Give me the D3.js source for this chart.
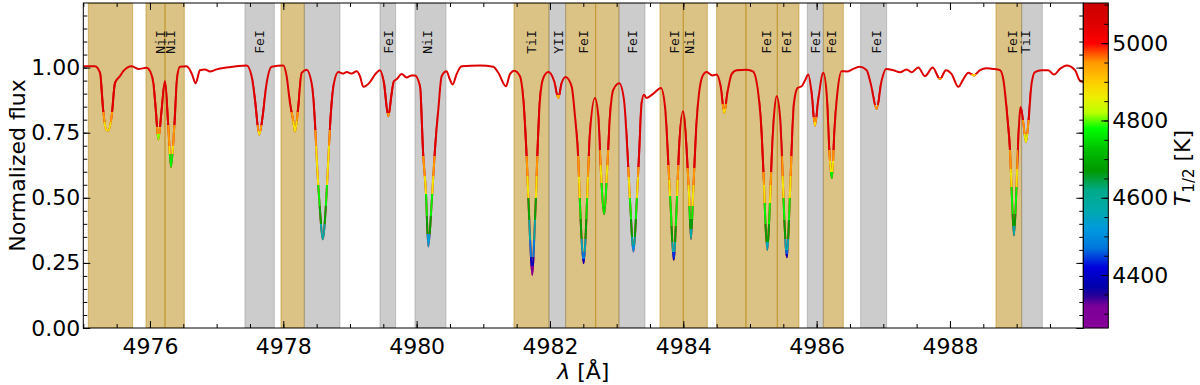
<!DOCTYPE html>
<html><head><meta charset="utf-8">
<script src="https://cdn.jsdelivr.net/npm/d3@7"></script>
<style>body{margin:0;background:#fff;} svg{display:block;}</style>
</head><body>
<svg id="chart" width="1200" height="385"></svg>
<script>
// ---------------- DATA ----------------
const wavelength = [4975.0,4975.175,4975.25,4975.30,4975.34,4975.375,4975.425,4975.475,4975.55,4975.60,4975.725,4975.825,4975.95,4976.02,4976.05,4976.09,4976.125,4976.175,4976.225,4976.275,4976.315,4976.365,4976.41,4976.45,4976.55,4976.63,4976.685,4976.75,4976.825,4976.90,4977.0,4977.15,4977.45,4977.525,4977.575,4977.64,4977.69,4977.75,4977.825,4978.0,4978.05,4978.10,4978.15,4978.175,4978.225,4978.275,4978.35,4978.425,4978.475,4978.51,4978.55,4978.59,4978.635,4978.675,4978.71,4978.76,4978.825,4978.90,4978.95,4979.025,4979.10,4979.15,4979.20,4979.30,4979.375,4979.45,4979.51,4979.575,4979.625,4979.66,4979.70,4979.775,4979.85,4979.925,4979.975,4980.05,4980.10,4980.14,4980.175,4980.225,4980.275,4980.325,4980.375,4980.45,4980.49,4980.54,4980.60,4980.675,4980.95,4981.15,4981.225,4981.34,4981.40,4981.465,4981.55,4981.60,4981.65,4981.675,4981.70,4981.735,4981.765,4981.79,4981.81,4981.85,4981.90,4981.975,4982.06,4982.125,4982.175,4982.235,4982.325,4982.375,4982.425,4982.45,4982.475,4982.505,4982.535,4982.56,4982.60,4982.675,4982.725,4982.76,4982.815,4982.86,4982.90,4982.95,4983.04,4983.11,4983.16,4983.20,4983.255,4983.30,4983.34,4983.375,4983.41,4983.45,4983.55,4983.665,4983.725,4983.775,4983.81,4983.855,4983.90,4983.935,4983.995,4984.05,4984.085,4984.115,4984.15,4984.19,4984.25,4984.31,4984.35,4984.435,4984.50,4984.56,4984.615,4984.66,4984.725,4984.80,4984.95,4985.045,4985.125,4985.175,4985.21,4985.23,4985.26,4985.29,4985.325,4985.36,4985.40,4985.45,4985.485,4985.515,4985.555,4985.59,4985.625,4985.66,4985.715,4985.775,4985.825,4985.875,4985.925,4985.975,4986.025,4986.10,4986.15,4986.19,4986.23,4986.265,4986.31,4986.375,4986.455,4986.55,4986.65,4986.75,4986.81,4986.90,4986.975,4987.04,4987.15,4987.25,4987.35,4987.425,4987.525,4987.625,4987.74,4987.85,4987.94,4988.025,4988.125,4988.20,4988.275,4988.36,4988.45,4988.55,4988.65,4988.75,4988.80,4988.86,4988.90,4988.925,4988.96,4989.0,4989.025,4989.06,4989.10,4989.14,4989.18,4989.225,4989.275,4989.375,4989.475,4989.56,4989.65,4989.75,4989.875,4989.95,4990.0];
const flux = [1.005,1.005,0.98,0.832,0.762,0.758,0.813,0.94,0.967,0.986,1.005,0.995,0.999,0.975,0.94,0.83,0.723,0.838,0.948,0.774,0.618,0.774,0.967,1.003,1.005,0.975,0.94,0.99,0.993,0.985,0.993,1.0,1.008,0.967,0.877,0.742,0.813,0.94,1.003,1.008,0.967,0.864,0.794,0.755,0.851,0.98,0.992,0.94,0.788,0.608,0.454,0.341,0.454,0.646,0.813,0.94,0.983,0.977,0.983,0.977,0.986,0.967,0.926,0.944,0.973,0.99,0.94,0.813,0.90,0.948,0.955,0.975,0.962,0.97,0.97,0.928,0.659,0.518,0.313,0.479,0.685,0.838,0.967,0.986,0.96,0.935,0.975,1.005,1.008,1.003,0.98,0.928,0.975,0.988,0.967,0.877,0.659,0.505,0.351,0.204,0.351,0.505,0.659,0.877,0.96,0.983,0.95,0.883,0.94,0.964,0.928,0.813,0.646,0.479,0.338,0.249,0.351,0.518,0.749,0.883,0.813,0.621,0.437,0.621,0.813,0.915,0.94,0.877,0.685,0.492,0.294,0.479,0.685,0.864,0.896,0.883,0.90,0.922,0.851,0.633,0.467,0.262,0.467,0.685,0.832,0.685,0.518,0.342,0.531,0.749,0.928,0.977,0.983,0.97,0.973,0.928,0.826,0.90,0.975,0.99,0.992,0.985,0.90,0.749,0.556,0.415,0.30,0.42,0.646,0.813,0.89,0.813,0.621,0.42,0.272,0.446,0.685,0.864,0.922,0.928,0.95,0.973,0.90,0.777,0.877,0.98,0.90,0.685,0.576,0.749,0.90,0.986,0.985,0.995,1.003,0.99,0.94,0.841,0.95,0.995,0.99,0.982,0.993,0.982,1.0,0.967,1.0,0.956,0.99,0.975,0.926,0.955,0.98,0.97,0.99,0.997,0.995,0.99,0.955,0.81,0.685,0.531,0.355,0.556,0.723,0.849,0.787,0.713,0.80,0.94,0.983,0.99,0.99,0.973,0.995,1.008,0.99,0.95,0.945];

// T_1/2 of the line at each depth: wavelength range of the line, and [flux below which, T] steps
const lineRanges = [[4975.25,4975.5],[4976.05,4976.2],[4976.24,4976.4],[4977.55,4977.72],[4978.1,4978.25],[4978.45,4978.75],[4979.5,4979.65],[4980.05,4980.3],[4981.6,4981.85],[4982.08,4982.17],[4982.4,4982.6],[4982.74,4982.9],[4983.15,4983.36],[4983.75,4983.96],[4984.03,4984.2],[4984.57,4984.66],[4985.15,4985.34],[4985.47,4985.64],[4985.93,4986.02],[4986.17,4986.28],[4986.85,4986.95],[4987.8,4987.9],[4988.32,4988.4],[4988.85,4989.02],[4989.08,4989.2]];
const lineTsteps = [
  [[0.83,4950],[0.79,4870]],
  [[0.77,4950],[0.745,4810]],
  [[0.78,4950],[0.70,4870],[0.67,4770]],
  [[0.78,4950],[0.755,4870]],
  [[0.83,4950],[0.795,4870]],
  [[0.76,4950],[0.70,4870],[0.55,4770],[0.47,4690],[0.40,4580]],
  [[0.825,4950]],
  [[0.66,4950],[0.585,4870],[0.515,4770],[0.43,4680],[0.36,4530]],
  [[0.66,4950],[0.585,4870],[0.50,4690],[0.415,4580],[0.338,4480],[0.274,4390],[0.24,4300]],
  [[0.895,4920]],
  [[0.66,4950],[0.58,4870],[0.50,4760],[0.42,4680],[0.34,4560],[0.29,4470],[0.265,4390]],
  [[0.685,4950],[0.627,4870],[0.556,4780],[0.47,4760]],
  [[0.62,4950],[0.58,4870],[0.50,4770],[0.42,4680],[0.35,4580],[0.32,4500]],
  [[0.627,4950],[0.57,4870],[0.505,4770],[0.39,4680],[0.33,4570],[0.29,4440],[0.27,4390]],
  [[0.615,4950],[0.55,4870],[0.47,4770],[0.42,4680],[0.38,4580]],
  [[0.86,4950],[0.84,4880]],
  [[0.60,4950],[0.55,4870],[0.48,4770],[0.40,4680],[0.33,4560]],
  [[0.66,4950],[0.585,4870],[0.50,4770],[0.415,4680],[0.34,4560],[0.30,4460],[0.285,4390]],
  [[0.81,4950],[0.79,4880]],
  [[0.685,4950],[0.64,4870],[0.60,4770]],
  [[0.855,4950]],
  [[0.96,4950]],
  [[0.975,4900]],
  [[0.685,4950],[0.61,4870],[0.54,4770],[0.436,4680],[0.39,4580]],
  [[0.80,4950],[0.745,4850]]
];
const continuumT = 5050;

const goldBands = [[4975.075,4975.74],[4975.94,4976.225],[4976.225,4976.515],[4977.965,4978.315],[4981.46,4981.985],[4982.235,4982.685],[4982.685,4983.035],[4983.65,4984.0],[4984.0,4984.36],[4984.5,4984.94],[4984.94,4985.41],[4985.41,4985.735],[4986.1,4986.4],[4988.69,4989.075]];
const grayBands = [[4977.425,4977.865],[4978.315,4978.85],[4979.45,4979.685],[4979.975,4980.44],[4981.985,4982.235],[4983.035,4983.425],[4985.86,4986.1],[4986.66,4987.05],[4989.075,4989.385]];

const labelWavelengths = [4976.15,4976.30,4977.64,4979.575,4980.165,4981.725,4982.125,4982.495,4983.24,4983.86,4984.09,4985.25,4985.54,4985.975,4986.215,4986.89,4988.94,4989.125];
const labelTexts = ["NiI","NiI","FeI","FeI","NiI","TiI","YII","FeI","FeI","FeI","NiI","FeI","FeI","FeI","FeI","FeI","FeI","TiI"];

const xTicks = [4976,4978,4980,4982,4984,4986,4988];
const yTicks = [0,0.25,0.5,0.75,1.0];
const cbTicks = [4400,4600,4800,5000];
const cbRange = [4263,5104];

// colormap (nipy_spectral-like) : temperature -> colour
const cmapT = [4263,4320,4345,4370,4420,4470,4520,4570,4620,4670,4720,4750,4780,4820,4860,4900,4950,5000,5050,5104];
const cmapColors = ["#880099","#7a0099","#2a0099","#0000aa","#0000dd","#0077dd","#0099dd","#00aaaa","#00aa88","#009900","#00bb00","#00dd00","#00ff00","#bbff00","#eeee00","#ffcc00","#ff9900","#ff0000","#dd0000","#cc0000"];

// ---------------- CHART ----------------
const svg = d3.select("#chart");
const P = {left:83.3, right:1083.3, top:3, bottom:328};
const x = d3.scaleLinear().domain([4975,4990]).range([P.left,P.right]);
const y = d3.scaleLinear().domain([0,1.248]).range([P.bottom,P.top]);
const cmap = d3.scaleLinear().domain(cmapT).range(cmapColors).clamp(true);
const FONT = "'DejaVu Sans', sans-serif";
const defs = svg.append("defs");
defs.append("clipPath").attr("id","plotclip").append("rect")
  .attr("x",P.left).attr("y",P.top).attr("width",P.right-P.left).attr("height",P.bottom-P.top);

// shaded bands (axvspan-like: face and edge with alpha)
const gB = svg.append("g").attr("clip-path","url(#plotclip)");
function drawBands(data, col, alpha){
  gB.selectAll(null).data(data).join("rect")
    .attr("x",d=>x(d[0])).attr("width",d=>x(d[1])-x(d[0]))
    .attr("y",P.top).attr("height",P.bottom-P.top)
    .attr("fill",col).attr("fill-opacity",alpha)
    .attr("stroke",col).attr("stroke-opacity",alpha).attr("stroke-width",1);
}
drawBands(goldBands,"#b8860b",0.5);
drawBands(grayBands,"#808080",0.4);

// labels
svg.append("g").selectAll("text").data(labelTexts).join("text")
  .attr("transform",(d,i)=>`translate(${x(labelWavelengths[i])},42) rotate(-90)`)
  .attr("text-anchor","middle").attr("dy","0.36em")
  .attr("font-family","'DejaVu Sans Mono', monospace").attr("font-size",13)
  .attr("fill","#111").text(d=>d);

// spectrum
const pts = wavelength.map((w,i)=>[w,flux[i]]);
const line = d3.line().x(d=>x(d[0])).y(d=>y(d[1])).curve(d3.curveMonotoneX);
const dPath = line(pts);
const gS = svg.append("g").attr("clip-path","url(#plotclip)");
gS.append("path").attr("d",dPath).attr("fill","none")
  .attr("stroke",cmap(continuumT)).attr("stroke-width",2).attr("stroke-linejoin","round");

lineRanges.forEach((r,i)=>{
  defs.append("clipPath").attr("id","lc"+i).append("rect")
    .attr("x",x(r[0])).attr("width",x(r[1])-x(r[0])).attr("y",P.top).attr("height",P.bottom-P.top);
  const g = defs.append("linearGradient").attr("id","lg"+i)
    .attr("gradientUnits","userSpaceOnUse").attr("x1",0).attr("x2",0).attr("y1",P.top).attr("y2",P.bottom);
  let prev = cmap(continuumT);
  g.append("stop").attr("offset",0).attr("stop-color",prev);
  lineTsteps[i].forEach(([f,T])=>{
    const o = (y(f)-P.top)/(P.bottom-P.top);
    g.append("stop").attr("offset",o).attr("stop-color",prev);
    prev = cmap(T);
    g.append("stop").attr("offset",o).attr("stop-color",prev);
  });
  g.append("stop").attr("offset",1).attr("stop-color",prev);
  gS.append("g").attr("clip-path",`url(#lc${i})`).append("path").attr("d",dPath).attr("fill","none")
    .attr("stroke",`url(#lg${i})`).attr("stroke-width",2).attr("stroke-linejoin","round");
});

// axes
function styleAxis(g){ g.select(".domain").remove(); g.selectAll("line").attr("stroke","#000").attr("stroke-width",1);
  g.selectAll("text").attr("font-family",FONT).attr("font-size",22).attr("fill","#000"); }
const xMinor = d3.range(4975,4990.01,0.5);
const yMinor = d3.range(0,1.2401,0.05);
svg.append("g").attr("transform",`translate(0,${P.bottom})`)
  .call(d3.axisBottom(x).tickValues(xMinor).tickSize(-4).tickFormat("")).call(styleAxis);
svg.append("g").attr("transform",`translate(0,${P.bottom})`)
  .call(d3.axisBottom(x).tickValues(xTicks).tickSize(-7).tickPadding(10).tickFormat(d3.format("d"))).call(styleAxis);
svg.append("g").attr("transform",`translate(0,${P.top})`)
  .call(d3.axisTop(x).tickValues(xMinor).tickSize(-4).tickFormat("")).call(styleAxis);
svg.append("g").attr("transform",`translate(0,${P.top})`)
  .call(d3.axisTop(x).tickValues(xTicks).tickSize(-7).tickFormat("")).call(styleAxis);
svg.append("g").attr("transform",`translate(${P.left},0)`)
  .call(d3.axisLeft(y).tickValues(yMinor).tickSize(-4).tickFormat("")).call(styleAxis);
svg.append("g").attr("transform",`translate(${P.left},0)`)
  .call(d3.axisLeft(y).tickValues(yTicks).tickSize(-7).tickPadding(3).tickFormat(d3.format(".2f"))).call(styleAxis);
svg.append("g").attr("transform",`translate(${P.right},0)`)
  .call(d3.axisRight(y).tickValues(yMinor).tickSize(-4).tickFormat("")).call(styleAxis);
svg.append("g").attr("transform",`translate(${P.right},0)`)
  .call(d3.axisRight(y).tickValues(yTicks).tickSize(-7).tickFormat("")).call(styleAxis);

svg.append("rect").attr("x",P.left).attr("y",P.top).attr("width",P.right-P.left).attr("height",P.bottom-P.top)
  .attr("fill","none").attr("stroke","#000").attr("stroke-width",1);

// axis titles
svg.append("text").attr("transform",`translate(25,${(P.top+P.bottom)/2}) rotate(-90)`)
  .attr("text-anchor","middle").attr("font-family",FONT).attr("font-size",22).text("Normalized flux");
const xl = svg.append("text").attr("x",(P.left+P.right)/2).attr("y",379).attr("text-anchor","middle")
  .attr("font-family",FONT).attr("font-size",22);
xl.append("tspan").attr("font-style","italic").text("λ");
xl.append("tspan").text(" [Å]");

// colorbar
const CB = {x0:1083.3, x1:1108.3};
const cb = d3.scaleLinear().domain(cbRange).range([P.bottom,P.top]);
const rows = d3.range(P.top, P.bottom, 1);
svg.append("g").selectAll("rect").data(rows).join("rect")
  .attr("x",CB.x0).attr("width",CB.x1-CB.x0).attr("y",d=>d).attr("height",1.2)
  .attr("fill",d=>cmap(cb.invert(d+0.5)));
const cbMinor = d3.range(4300,5101,50);
svg.append("g").attr("transform",`translate(${CB.x1},0)`)
  .call(d3.axisRight(cb).tickValues(cbMinor).tickSize(-4).tickFormat("")).call(styleAxis);
svg.append("g").attr("transform",`translate(${CB.x1},0)`)
  .call(d3.axisRight(cb).tickValues(cbTicks).tickSize(-7).tickPadding(4).tickFormat(d3.format("d"))).call(styleAxis);
svg.append("rect").attr("x",CB.x0).attr("y",P.top).attr("width",CB.x1-CB.x0).attr("height",P.bottom-P.top)
  .attr("fill","none").attr("stroke","#000").attr("stroke-width",1);
const cl = svg.append("text").attr("transform",`translate(1190,168) rotate(-90)`)
  .attr("text-anchor","middle").attr("font-family",FONT).attr("font-size",22);
cl.append("tspan").attr("font-style","italic").text("T");
cl.append("tspan").attr("font-size",15).attr("dy",4).text("1/2");
cl.append("tspan").attr("dy",-4).text(" [K]");
</script>
</body></html>
